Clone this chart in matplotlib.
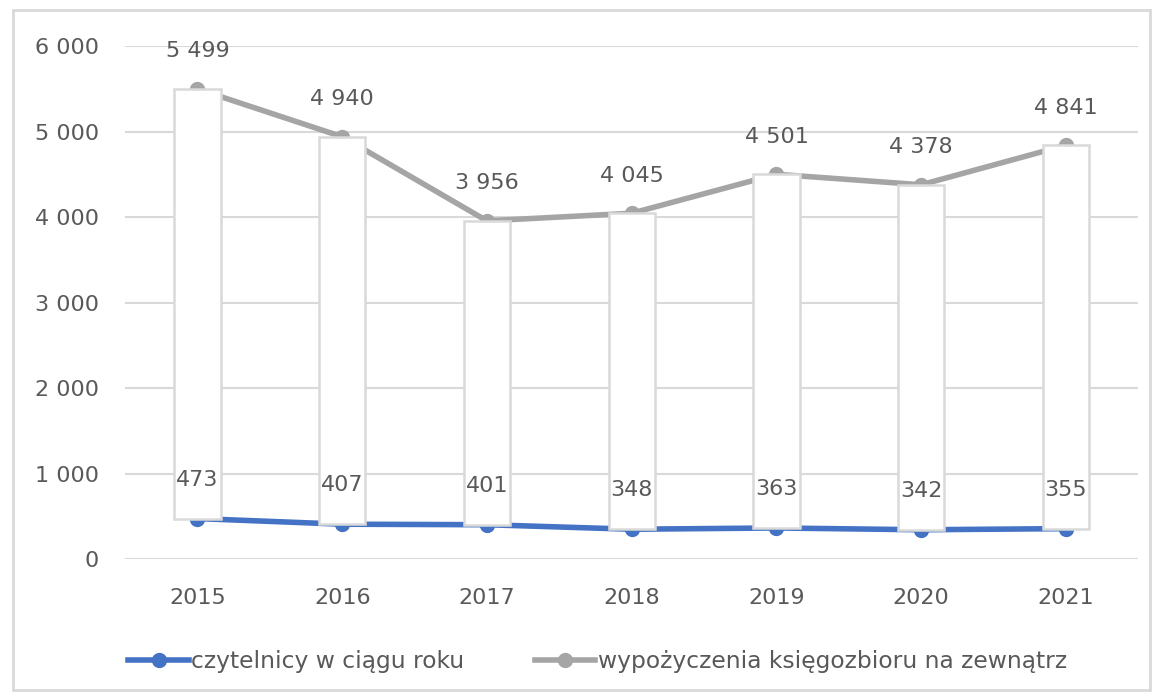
import matplotlib.pyplot as plt
import matplotlib.patches as mpatches
import numpy as np

years = ["2015", "2016", "2017", "2018", "2019", "2020", "2021"]
czytelnicy = [473, 407, 401, 348, 363, 342, 355]
wypozyczenia = [5499, 4940, 3956, 4045, 4501, 4378, 4841]

blue = "#4472C4"
grey = "#A5A5A5"
text_col = "#595959"
grid_col = "#D9D9D9"

plt.rcParams['font.family'] = ['DejaVu Sans']

fig = plt.figure(figsize=(11.58, 6.99), dpi=100)
ax = fig.add_axes([0.108, 0.2003, 0.875, 0.7337])

x = np.arange(len(years))
ax.plot(x, czytelnicy, color=blue, lw=4, marker="o", ms=10, zorder=3,
        label="czytelnicy w ciągu roku")
ax.plot(x, wypozyczenia, color=grey, lw=4, marker="o", ms=10, zorder=3,
        label="wypożyczenia księgozbioru na zewnątrz")

# up-down bars between the two series
lo = np.minimum(czytelnicy, wypozyczenia)
hi = np.maximum(czytelnicy, wypozyczenia)
ax.bar(x, hi - lo, bottom=lo, width=0.32, color="white", edgecolor=grid_col,
       linewidth=1.8, zorder=4)

for i in range(len(years)):
    ax.annotate(f"{wypozyczenia[i]:,}".replace(",", " "), (x[i], wypozyczenia[i]),
                xytext=(0, 27), textcoords="offset points", ha="center", va="center",
                fontsize=16, color=text_col, zorder=5)
    ax.annotate(str(czytelnicy[i]), (x[i], czytelnicy[i]),
                xytext=(0, 28), textcoords="offset points", ha="center", va="center",
                fontsize=16, color=text_col, zorder=5)

ax.set_xlim(-0.5, len(years) - 0.5)
ax.set_ylim(0, 6000)
ax.set_yticks(range(0, 6001, 1000))
ax.set_yticklabels([f"{v:,}".replace(",", " ") for v in range(0, 6001, 1000)])
ax.set_xticks(x)
ax.set_xticklabels(years)
ax.tick_params(axis="both", length=0, labelsize=16, labelcolor=text_col)
ax.tick_params(axis="x", pad=21)
ax.tick_params(axis="y", pad=19)
ax.grid(axis="y", color=grid_col, lw=1.5, zorder=0)
ax.set_axisbelow(True)
for s in ax.spines.values():
    s.set_visible(False)

leg = fig.legend(loc="center", bbox_to_anchor=(0.516, 0.054), ncol=2, frameon=False,
                 fontsize=16.8, handlelength=2.6, handletextpad=0.1, columnspacing=3.0)
for t in leg.get_texts():
    t.set_color(text_col)

fig.patches.append(mpatches.Rectangle((0.011, 0.013), 0.982, 0.973, transform=fig.transFigure,
                                      fill=False, edgecolor=grid_col, lw=2))

fig.savefig("out.png", dpi=100)
